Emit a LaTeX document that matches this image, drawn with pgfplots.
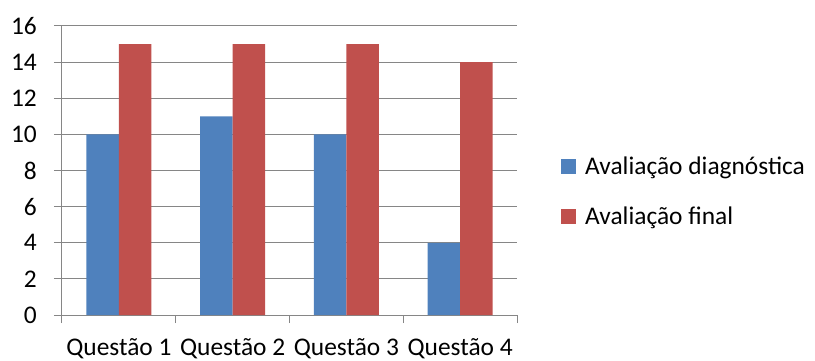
\documentclass[border=0pt]{standalone}
\usepackage{fontspec}
\setmainfont{Carlito}
\usepackage{pgfplots}
\pgfplotsset{compat=1.18}

\definecolor{serA}{HTML}{4F81BD}
\definecolor{serB}{HTML}{C0504D}
\definecolor{gridc}{HTML}{868686}

\begin{document}
\begin{tikzpicture}[x=1bp,y=1bp]
\path[use as bounding box] (-62,-45) rectangle (753,315);
\begin{axis}[
  at={(0,0)}, anchor=south west,
  scale only axis, width=455bp, height=289bp,
  xmin=-0.5, xmax=3.5, ymin=0, ymax=16,
  ybar=0pt, bar width=32.5bp,
  axis lines*=left,
  axis line style={gridc, line width=1bp},
  ytick={0,2,...,16},
  xtick={0,1,2,3},
  xticklabels={Questão 1,Questão 2,Questão 3,Questão 4},
  minor xtick={-0.5,0.5,1.5,2.5,3.5},
  tick align=outside,
  major tick length=8bp,
  minor tick length=8bp,
  x tick style={draw=none},
  minor x tick style={draw=gridc, line width=1bp},
  y tick style={gridc, line width=1bp},
  ymajorgrids,
  major grid style={gridc, line width=1bp},
  tick label style={font=\fontsize{25.5}{30}\selectfont, text=black},
  /pgf/number format/assume math mode=true,
  yticklabel style={inner sep=0pt, xshift=-17bp},
  xticklabel style={inner sep=0pt, anchor=base, yshift=-32.5bp},
  legend image code/.code={\fill[#1] (0bp,-7.5bp) rectangle (15bp,7.5bp);},
  legend style={
    at={(rel axis cs:1.0967,0.428)}, anchor=west,
    draw=none, fill=none, inner sep=0pt,
    font=\fontsize{25.5}{30}\selectfont,
    row sep=30.5bp,
    nodes={inner sep=0pt, anchor=west},
    /tikz/every odd column/.append style={column sep=9bp},
  },
  legend cell align=left,
]
\addplot[fill=serA, draw=none] coordinates {(0,10) (1,11) (2,10) (3,4)};
\addplot[fill=serB, draw=none] coordinates {(0,15) (1,15) (2,15) (3,14)};
\legend{Avaliação diagnóstica, Avaliação final}
\end{axis}
\end{tikzpicture}
\end{document}
